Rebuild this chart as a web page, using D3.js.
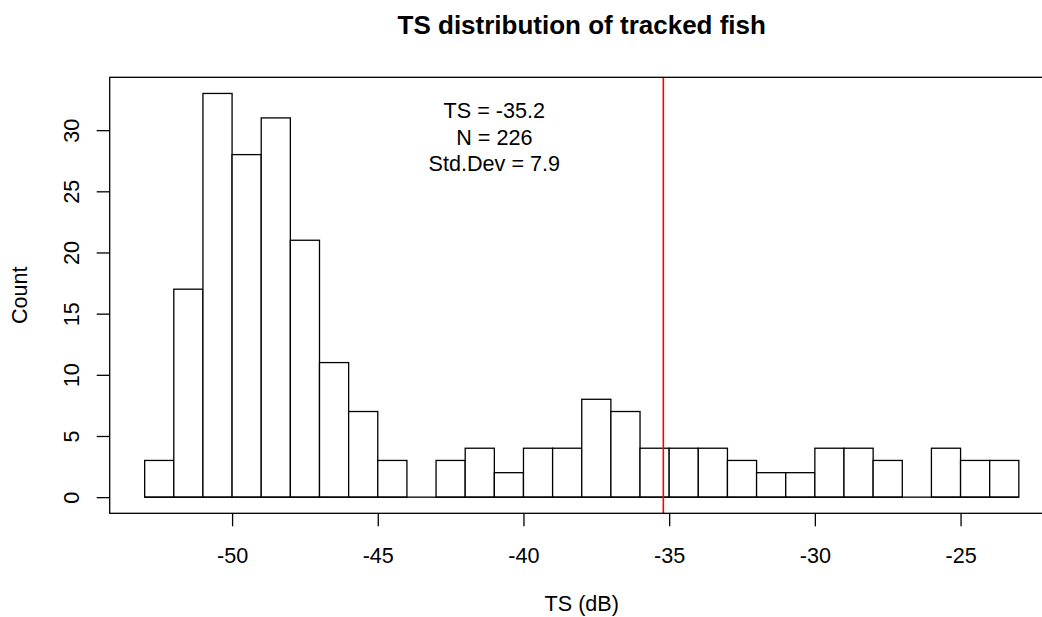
<!DOCTYPE html>
<html>
<head>
<meta charset="utf-8">
<script src="https://cdn.jsdelivr.net/npm/d3@7"></script>
<style>
  body { margin: 0; background: #fff; }
  text { font-family: "Liberation Sans", Arial, Helvetica, sans-serif; }
</style>
</head>
<body>
<div id="chart"></div>
<script>
// histogram bins (TS in dB, width 1) and counts
var breaks = [-53, -52, -51, -50, -49, -48, -47, -46, -45, -44, -43, -42, -41, -40, -39, -38,
              -37, -36, -35, -34, -33, -32, -31, -30, -29, -28, -27, -26, -25, -24, -23];
var counts = [3, 17, 33, 28, 31, 21, 11, 7, 3, 0, 3, 4, 2, 4, 4, 8,
              7, 4, 4, 4, 3, 2, 2, 4, 4, 3, 0, 4, 3, 3];
var xTicks = [-50, -45, -40, -35, -30, -25];
var yTicks = [0, 5, 10, 15, 20, 25, 30];
var meanTS = -35.2;
var statLines = ["TS = -35.2", "N = 226", "Std.Dev = 7.9"];

var svgWidth = 1042;
var svgHeight = 617;
var plot = { left: 109.7, right: 1053.8, top: 77.3, bottom: 513.3 };
var baseFont = 21.6;

var svg = d3.select("#chart")
    .append("svg")
    .attr("width", svgWidth)
    .attr("height", svgHeight);

// R style: 4% padding on each side of the data range
var xRange = [breaks[0], breaks[breaks.length - 1]];
var xPad = (xRange[1] - xRange[0]) * 0.04;
var yMax = d3.max(counts);
var yPad = yMax * 0.04;

var x = d3.scaleLinear()
    .domain([xRange[0] - xPad, xRange[1] + xPad])
    .range([plot.left, plot.right]);
var y = d3.scaleLinear()
    .domain([-yPad, yMax + yPad])
    .range([plot.bottom, plot.top]);

var bins = counts.map(function(c, i) {
    return { x0: breaks[i], x1: breaks[i + 1], count: c };
});

// bars
svg.append("g")
    .selectAll("rect")
    .data(bins.filter(d => d.count > 0))
    .enter()
    .append("rect")
    .attr("x", d => x(d.x0))
    .attr("width", d => x(d.x1) - x(d.x0))
    .attr("y", d => y(d.count))
    .attr("height", d => y(0) - y(d.count))
    .attr("fill", "white")
    .attr("stroke", "black")
    .attr("stroke-width", 1.3);

// bottom edge of every bin, so empty bins still show on the baseline
svg.append("g")
    .selectAll("line")
    .data(bins)
    .enter()
    .append("line")
    .attr("x1", d => x(d.x0))
    .attr("x2", d => x(d.x1))
    .attr("y1", y(0))
    .attr("y2", y(0))
    .attr("stroke", "black")
    .attr("stroke-width", 1.3);

// mean line
svg.append("line")
    .attr("x1", x(meanTS))
    .attr("x2", x(meanTS))
    .attr("y1", plot.top)
    .attr("y2", plot.bottom)
    .attr("stroke", "#ff0000")
    .attr("stroke-width", 1.6);

// plot box
svg.append("rect")
    .attr("x", plot.left)
    .attr("y", plot.top)
    .attr("width", plot.right - plot.left)
    .attr("height", plot.bottom - plot.top)
    .attr("fill", "none")
    .attr("stroke", "black")
    .attr("stroke-width", 1.3);

// x axis
var xAxis = svg.append("g")
    .attr("transform", `translate(0, ${plot.bottom})`)
    .call(d3.axisBottom(x).tickValues(xTicks).tickSize(13).tickFormat(d => String(d)));
xAxis.select(".domain").remove();
xAxis.selectAll(".tick line").attr("stroke-width", 1.3);
xAxis.selectAll(".tick text")
    .attr("y", 42)
    .attr("dy", "0.36em")
    .attr("font-size", baseFont)
    .attr("font-family", "Liberation Sans, Arial, sans-serif")
    .attr("fill", "black");

// y axis
var yAxis = svg.append("g")
    .attr("transform", `translate(${plot.left}, 0)`)
    .call(d3.axisLeft(y).tickValues(yTicks).tickSize(13).tickFormat(d => String(d)));
yAxis.select(".domain").remove();
yAxis.selectAll(".tick line").attr("stroke-width", 1.3);
yAxis.selectAll(".tick text")
    .attr("x", null)
    .attr("dy", "0.36em")
    .attr("transform", "translate(-38,0) rotate(-90)")
    .attr("text-anchor", "middle")
    .attr("font-size", baseFont)
    .attr("font-family", "Liberation Sans, Arial, sans-serif")
    .attr("fill", "black");

// title and axis labels
var midX = (plot.left + plot.right) / 2;
var midY = (plot.top + plot.bottom) / 2;

svg.append("text")
    .attr("x", midX)
    .attr("y", 25)
    .attr("dy", "0.36em")
    .attr("text-anchor", "middle")
    .attr("font-size", 26)
    .attr("font-weight", "bold")
    .text("TS distribution of tracked fish");

svg.append("text")
    .attr("x", midX)
    .attr("y", plot.bottom + 90)
    .attr("dy", "0.36em")
    .attr("text-anchor", "middle")
    .attr("font-size", baseFont)
    .text("TS (dB)");

svg.append("text")
    .attr("transform", `translate(${plot.left - 90}, ${midY}) rotate(-90)`)
    .attr("dy", "0.36em")
    .attr("text-anchor", "middle")
    .attr("font-size", baseFont)
    .text("Count");

// stats annotation
svg.append("g")
    .selectAll("text")
    .data(statLines)
    .enter()
    .append("text")
    .attr("x", x(-41))
    .attr("y", (d, i) => y(31.6) + i * 26.3)
    .attr("dy", "0.36em")
    .attr("text-anchor", "middle")
    .attr("font-size", baseFont)
    .text(d => d);
</script>
</body>
</html>
